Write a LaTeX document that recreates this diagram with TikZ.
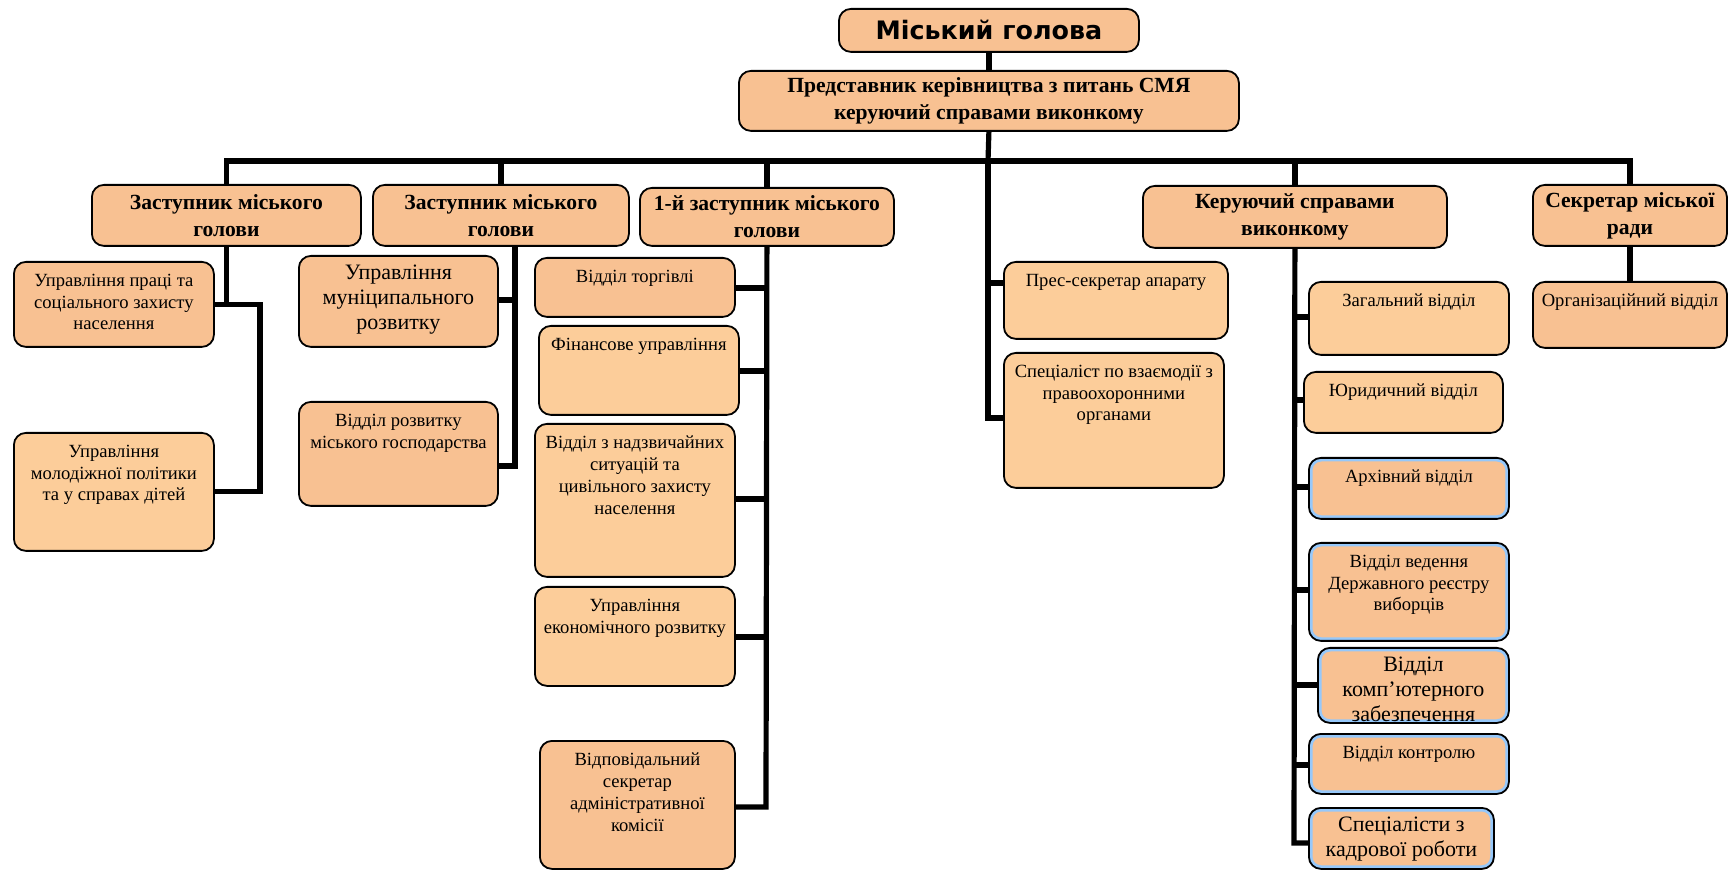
\documentclass[tikz,border=0pt]{standalone}
\usepackage{fontspec}
\setmainfont{Liberation Serif}
\newfontfamily\djsans{DejaVu Sans}
\usetikzlibrary{backgrounds}
\definecolor{pdark}{RGB}{248,193,146}
\definecolor{plight}{RGB}{252,205,154}
\definecolor{bedge}{RGB}{150,200,250}
\newcommand\fsmall{\fontsize{9.3}{10.9}\selectfont\def\tgap{6pt}}
\newcommand\fbig{\fontsize{11}{12.6}\selectfont\def\tgap{4.5pt}}
\newcommand\fhead{\fontsize{10.8}{13.5}\selectfont\bfseries}
% name, x1, y1, x2, y2, style, font, text  (text at top)
\newcommand\tbox[8]{%
  \node[#6, anchor=north west, inner sep=0pt] (#1) at (#2,#3)
  {\parbox[t][\dimexpr(#5pt-#3pt)/2\relax][t]{\dimexpr(#4pt-#2pt)/2\relax}{#7\centering\vspace*{\tgap}#8\par}};}
% name, x1, y1, x2, y2, style, text (text centred)
\newcommand\cbox[7]{%
  \node[#6, anchor=north west, inner sep=0pt, align=center,
        minimum width={(#4-#2)*0.5pt}, minimum height={(#5-#3)*0.5pt}] (#1) at (#2,#3) {#7};}
\tikzset{
  boxbase/.style={draw=black, line width=0.9pt, rounded corners=6pt},
  boxdark/.style={boxbase, fill=pdark},
  boxlight/.style={boxbase, fill=plight},
  boxblue/.style={boxdark, path picture={\draw[bedge, line width=3.6pt, rounded corners=6pt]
     (path picture bounding box.south west) rectangle (path picture bounding box.north east);}},
  conn/.style={line width=2.6pt, line join=miter},
}
\begin{document}
\begin{tikzpicture}[x=0.5pt, y=-0.5pt]
\useasboundingbox (0,0) rectangle (1728,870);
% top
\cbox{mayor}{838}{8}{1138}{51}{boxdark, font=\djsans\bfseries\fontsize{12.7}{14}\selectfont}{Міський голова}
\cbox{rep}{738}{70}{1238}{130}{boxdark, font=\fhead}{Представник керівництва з питань СМЯ\\керуючий справами виконкому}
% level 2
\cbox{A}{91}{184}{360}{245}{boxdark, font=\fhead}{Заступник міського\\голови}
\cbox{B}{372}{184}{628}{245}{boxdark, font=\fhead}{Заступник міського\\голови}
\cbox{C}{639}{187}{893}{245}{boxdark, font=\fhead}{1-й заступник міського\\голови}
\cbox{D}{1142}{185}{1446}{247}{boxdark, font=\fhead}{Керуючий справами\\виконкому}
\cbox{E}{1532}{184}{1726}{245}{boxdark, font=\fhead}{Секретар міської\\ради}
% under A
\tbox{A1}{13}{261}{213}{346}{boxdark}{\fsmall}{Управління праці та\\соціального захисту\\населення}
\tbox{A2}{13}{432}{213}{550}{boxlight}{\fsmall}{Управління\\молодіжної політики\\та у справах дітей}
% under B
\tbox{B1}{298}{255}{497}{346}{boxdark}{\fbig}{Управління\\муніципального\\розвитку}
\tbox{B2}{298}{401}{497}{505}{boxdark}{\fsmall}{Відділ розвитку\\міського господарства}
% under C
\tbox{C1}{534}{257}{734}{316}{boxdark}{\fsmall}{Відділ торгівлі}
\tbox{C2}{538}{325}{738}{414}{boxlight}{\fsmall}{Фінансове управління}
\tbox{C3}{534}{423}{734}{576}{boxlight}{\fsmall}{Відділ з надзвичайних\\ситуацій та\\цивільного захисту\\населення}
\tbox{C4}{534}{586}{734}{685}{boxlight}{\fsmall}{Управління\\економічного розвитку}
\tbox{C5}{539}{740}{734}{868}{boxdark}{\fsmall}{Відповідальний\\секретар\\адміністративної\\комісії}
% centre
\tbox{P1}{1003}{261}{1227}{338}{boxlight}{\fsmall}{Прес-секретар апарату}
\tbox{P2}{1003}{352}{1223}{487}{boxlight}{\fsmall}{Спеціаліст по взаємодії з\\правоохоронними\\органами}
% under D
\tbox{D1}{1308}{281}{1508}{354}{boxlight}{\fsmall}{Загальний відділ}
\tbox{D2}{1303}{371}{1502}{432}{boxlight}{\fsmall}{Юридичний відділ}
\tbox{D3}{1308}{457}{1508}{518}{boxblue}{\fsmall}{Архівний відділ}
\tbox{D4}{1308}{542}{1508}{640}{boxblue}{\fsmall}{Відділ ведення\\Державного реєстру\\виборців}
\tbox{D5}{1317}{647}{1508}{722}{boxblue}{\fbig}{Відділ\\комп’ютерного\\забезпечення}
\tbox{D6}{1308}{733}{1508}{793}{boxblue}{\fsmall}{Відділ контролю}
\tbox{D7}{1308}{807}{1493}{868}{boxblue}{\fbig}{Спеціалісти з\\кадрової роботи}
% under E
\tbox{E1}{1532}{281}{1726}{347}{boxdark}{\fsmall}{Організаційний відділ}

\begin{pgfonlayer}{background}
\coordinate (bus) at (988,161);
\draw[conn] (mayor.south) -- (rep.north);
\draw[conn] (rep.south) -- (bus);
\draw[conn] (A.north) |- (bus) -| (E.north);
\draw[conn] (B.north) -- (B.north |- bus);
\draw[conn] (C.north) -- (C.north |- bus);
\draw[conn] (D.north) -- (D.north |- bus);
% centre
\coordinate (p1s) at (988,283);
\coordinate (p2s) at (988,418);
\draw[conn] (bus) -- (p2s) -- (p2s -| P2.west);
\draw[conn] (p1s) -- (p1s -| P1.west);
% A
\coordinate (aj) at (260,300);
\draw[conn] (A.south) |- (A1.east);
\draw[conn] (A1.east) -| (aj |- A2.east) -- (A2.east);
% B
\coordinate (bv1) at (515,300);
\coordinate (bv2) at (515,466);
\draw[conn] (bv1 |- B.south) -- (bv2) -- (bv2 -| B2.east);
\draw[conn] (bv1) -- (bv1 -| B1.east);
% C
\coordinate (c1) at (766,288);
\coordinate (c2) at (766,371);
\coordinate (c3) at (766,499);
\coordinate (c4) at (766,637);
\coordinate (c5) at (766,807);
\draw[conn] (C.south) -- (c5) -- (c5 -| C5.east);
\draw[conn] (c1) -- (c1 -| C1.east);
\draw[conn] (c2) -- (c2 -| C2.east);
\draw[conn] (c3) -- (c3 -| C3.east);
\draw[conn] (c4) -- (c4 -| C4.east);
% D
\coordinate (d1) at (1294,317);
\coordinate (d2) at (1294,400);
\coordinate (d3) at (1294,487);
\coordinate (d4) at (1294,590);
\coordinate (d5) at (1294,685);
\coordinate (d6) at (1294,765);
\coordinate (d7) at (1294,843);
\draw[conn] (D.south) -- (d7) -- (d7 -| D7.west);
\draw[conn] (d1) -- (d1 -| D1.west);
\draw[conn] (d2) -- (d2 -| D2.west);
\draw[conn] (d3) -- (d3 -| D3.west);
\draw[conn] (d4) -- (d4 -| D4.west);
\draw[conn] (d5) -- (d5 -| D5.west);
\draw[conn] (d6) -- (d6 -| D6.west);
% E
\draw[conn] (E.south) -- (E1.north);
\end{pgfonlayer}
\end{tikzpicture}
\end{document}
